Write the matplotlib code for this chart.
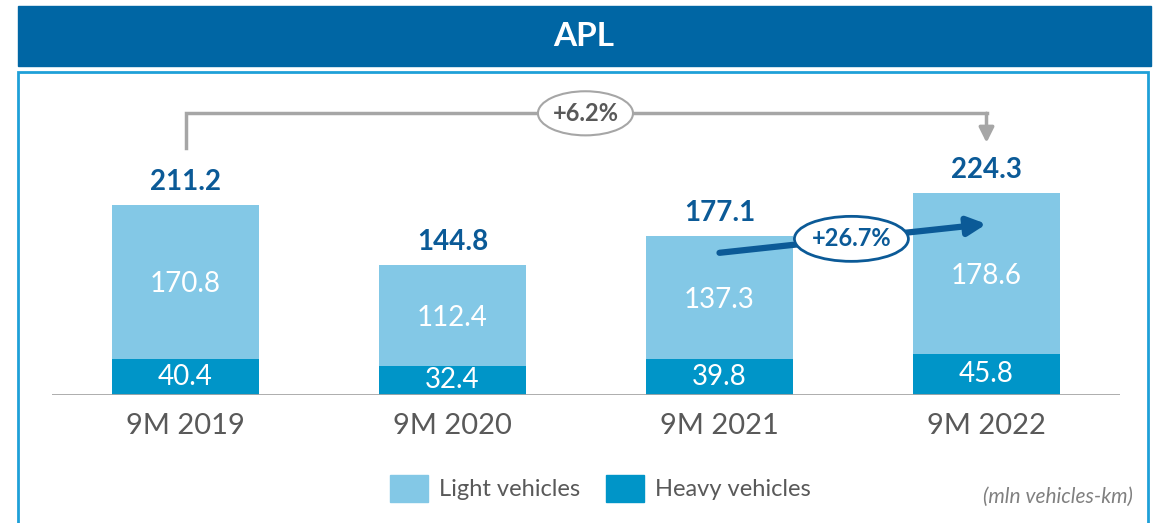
import matplotlib
matplotlib.use("Agg")
import matplotlib.pyplot as plt
from matplotlib.patches import Rectangle, Ellipse

plt.rcParams['font.family'] = ['Lato', 'DejaVu Sans']

# data
periods = ['9M 2019', '9M 2020', '9M 2021', '9M 2022']
heavy = [40.4, 32.4, 39.8, 45.8]
light = [170.8, 112.4, 137.3, 178.6]
totals = [211.2, 144.8, 177.1, 224.3]
growth_total = '+6.2%'
growth_last = '+26.7%'

c_light = '#83C8E6'
c_heavy = '#0095C8'
c_dark = '#0B5A97'
c_gray = '#595959'
c_line = '#A6A6A6'

W, H = 1161, 523
fig = plt.figure(figsize=(W / 100, H / 100), dpi=100)

# header band and panel frame
fig.patches.append(Rectangle((18 / W, 1 - 66 / H), 1133 / W, 60 / H,
                             transform=fig.transFigure, color='#0066A4', zorder=0))
fig.text(584 / W, 1 - 37 / H, 'APL', color='white', fontsize=24,
         fontweight='bold', ha='center', va='center')
fig.patches.append(Rectangle((18 / W, -0.1), 1130 / W, 1 - 72 / H + 0.1,
                             transform=fig.transFigure, fill=False,
                             edgecolor='#1FA0D8', linewidth=2, zorder=0))

ax = fig.add_axes([52 / W, (H - 395) / H, 1068 / W, 323 / H])
ax.set_xlim(-0.5, 3.5)
ax.set_ylim(0, 358.9)
x = list(range(len(periods)))
bw = 0.554

ax.bar(x, heavy, bw, color=c_heavy, label='Heavy vehicles', zorder=2)
ax.bar(x, light, bw, bottom=heavy, color=c_light, label='Light vehicles', zorder=2)

for i in x:
    ax.text(i, heavy[i] / 2, f'{heavy[i]:.1f}', color='white', fontsize=20,
            ha='center', va='center', zorder=3)
    ax.text(i, heavy[i] + light[i] / 2 - 3, f'{light[i]:.1f}', color='white',
            fontsize=20, ha='center', va='center', zorder=3)
    ax.annotate(f'{totals[i]:.1f}', (i, totals[i]), xytext=(0, 7),
                textcoords='offset points', ha='center', va='bottom',
                fontsize=20, fontweight='bold', color=c_dark)

for s in ax.spines.values():
    s.set_visible(False)
ax.axhline(0, color=c_line, linewidth=2, zorder=4)
ax.set_yticks([])
ax.set_xticks(x)
ax.set_xticklabels(periods, fontsize=21, color=c_gray)
ax.tick_params(axis='x', length=0, pad=13)

# +6.2% bracket from first to last period
y_br = 313
ax.plot([0, 0, 3], [totals[0] + 63, y_br, y_br], color=c_line, linewidth=2.5,
        clip_on=False, solid_joinstyle='miter', zorder=3)
ax.annotate('', xy=(3, totals[3] + 56), xytext=(3, y_br),
            arrowprops=dict(arrowstyle='-|>,head_length=0.9,head_width=0.45',
                            color=c_line, lw=2.5, shrinkA=0, shrinkB=0),
            annotation_clip=False)
ax.add_patch(Ellipse((1.498, y_br), 0.356, 49, facecolor='white',
                     edgecolor=c_line, linewidth=1.5, zorder=5, clip_on=False))
ax.text(1.498, y_br, growth_total, ha='center', va='center', fontsize=17,
        fontweight='bold', color=c_gray, zorder=6)

# +26.7% arrow from 2021 to 2022
ax.annotate('', xy=(3.0, 190), xytext=(2.0, 158),
            arrowprops=dict(arrowstyle='-|>,head_length=1.1,head_width=0.55',
                            color=c_dark, lw=4.5, shrinkA=0, shrinkB=0),
            zorder=4)
ax.add_patch(Ellipse((2.494, 173.5), 0.427, 50, facecolor='white',
                     edgecolor=c_dark, linewidth=2, zorder=5))
ax.text(2.494, 173.5, growth_last, ha='center', va='center', fontsize=17,
        fontweight='bold', color=c_dark, zorder=6)

# legend
for xs, col, lab in [(390, c_light, 'Light vehicles'), (606, c_heavy, 'Heavy vehicles')]:
    fig.patches.append(Rectangle((xs / W, 1 - 502 / H), 38 / W, 27 / H,
                                 transform=fig.transFigure, color=col))
    fig.text((xs + 49) / W, 1 - 490 / H, lab, fontsize=17, color=c_gray,
             ha='left', va='center')
fig.text(1133 / W, 1 - 497 / H, '(mln vehicles-km)', fontsize=15,
         style='italic', color='#808080', ha='right', va='center')

fig.savefig('out.png', dpi=100)
